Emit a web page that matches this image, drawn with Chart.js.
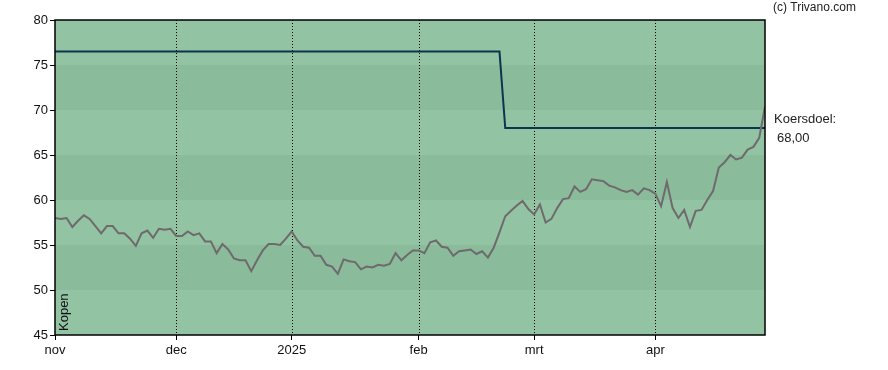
<!DOCTYPE html>
<html>
<head>
<meta charset="utf-8">
<script src="https://cdn.jsdelivr.net/npm/chart.js@4.4.1/dist/chart.umd.min.js"></script>
<style>
    html, body { margin: 0; padding: 0; background: #fff; }
    #wrap { position: relative; width: 888px; height: 370px; }
</style>
</head>
<body>
<div id="wrap"><canvas id="chart"></canvas></div>
<script>
// Koers (trading days, nov 2024 - apr 2025)
const priceValues = [
    58.0, 57.9, 58.0, 57.0, 57.7, 58.3, 57.9, 57.1, 56.3, 57.1,
    57.1, 56.3, 56.3, 55.7, 54.9, 56.3, 56.6, 55.8, 56.8, 56.7,
    56.8, 56.0, 56.0, 56.5, 56.1, 56.3, 55.4, 55.4, 54.1, 55.1,
    54.5, 53.5, 53.3, 53.3, 52.1, 53.3, 54.4, 55.1, 55.1, 55.0,
    55.7, 56.5, 55.5, 54.8, 54.7, 53.8, 53.8, 52.8, 52.6, 51.8,
    53.4, 53.2, 53.1, 52.3, 52.6, 52.5, 52.8, 52.7, 52.9, 54.1,
    53.3, 53.9, 54.4, 54.4, 54.1, 55.3, 55.5, 54.8, 54.7, 53.8,
    54.3, 54.4, 54.5, 54.0, 54.3, 53.6, 54.7, 56.4, 58.2, 58.8,
    59.4, 59.9, 59.0, 58.4, 59.5, 57.5, 57.9, 59.1, 60.1, 60.2,
    61.5, 60.9, 61.2, 62.3, 62.2, 62.1, 61.6, 61.4, 61.1, 60.9,
    61.1, 60.6, 61.3, 61.1, 60.7, 59.3, 62.0, 59.1, 58.0, 58.9,
    57.0, 58.8, 58.9, 60.0, 61.0, 63.6, 64.2, 65.0, 64.5, 64.7,
    65.6, 65.9, 66.9, 70.4
];

// Koersdoel (target price) steps
const targetX = [0, 77, 78, 123];
const targetY = [76.5, 76.5, 68, 68];
const targetLabel = '68,00';

// x axis: first trading day of each month
const monthStarts = [0, 21, 41, 63, 83, 104];
const monthLabels = ['nov', 'dec', '2025', 'feb', 'mrt', 'apr'];

const yTicks = [45, 50, 55, 60, 65, 70, 75, 80];

const FONT = '"Liberation Sans", Arial, sans-serif';

const backdrop = {
    id: 'backdrop',
    beforeDatasetsDraw(chart) {
        const { ctx, chartArea: a, scales } = chart;
        const y = scales.y;
        ctx.save();
        for (let i = 0; i < yTicks.length - 1; i++) {
            const top = y.getPixelForValue(yTicks[i + 1]);
            const bot = y.getPixelForValue(yTicks[i]);
            ctx.fillStyle = i % 2 === 0 ? '#92c3a3' : '#8abb9b';
            ctx.fillRect(a.left, top, a.right - a.left, bot - top);
        }
        // dotted month lines
        ctx.strokeStyle = '#000';
        ctx.lineWidth = 1;
        ctx.setLineDash([1, 2]);
        monthStarts.forEach(m => {
            if (m === 0) return;
            const px = Math.round(scales.x.getPixelForValue(m)) + 0.5;
            ctx.beginPath();
            ctx.moveTo(px, a.top);
            ctx.lineTo(px, a.bottom);
            ctx.stroke();
        });
        ctx.restore();
    },
    afterDraw(chart) {
        const { ctx, chartArea: a, scales } = chart;
        ctx.save();
        ctx.strokeStyle = '#000';
        ctx.lineWidth = 1.5;
        ctx.strokeRect(a.left, a.top, a.right - a.left, a.bottom - a.top);

        ctx.fillStyle = '#222';
        ctx.textBaseline = 'middle';
        ctx.textAlign = 'left';
        ctx.font = '12px ' + FONT;
        ctx.fillText('(c) Trivano.com', 773, 8);

        const ty = scales.y.getPixelForValue(targetY[targetY.length - 1]);
        ctx.font = '13px ' + FONT;
        ctx.fillText('Koersdoel:', a.right + 9, ty - 9);
        ctx.fillText(targetLabel, a.right + 12, ty + 10);

        ctx.fillStyle = '#111';
        ctx.translate(a.left + 9, a.bottom - 4);
        ctx.rotate(-Math.PI / 2);
        ctx.fillText('Kopen', 0, 0);
        ctx.restore();
    }
};

new Chart(document.getElementById('chart'), {
    type: 'line',
    data: {
        datasets: [
            {
                data: priceValues.map((v, i) => ({ x: i, y: v })),
                borderColor: '#6e6a6d',
                borderWidth: 2,
                pointRadius: 0,
                tension: 0
            },
            {
                data: targetX.map((x, i) => ({ x: x, y: targetY[i] })),
                borderColor: '#0c3350',
                borderWidth: 2,
                pointRadius: 0,
                tension: 0
            }
        ]
    },
    options: {
        responsive: true,
        maintainAspectRatio: false,
        animation: false,
        layout: { padding: { top: 20, right: 123, left: 0, bottom: 0 } },
        plugins: { legend: { display: false }, tooltip: { enabled: false } },
        scales: {
            x: {
                type: 'linear',
                min: 0,
                max: 123,
                afterBuildTicks: (s) => { s.ticks = monthStarts.map(v => ({ value: v })); },
                afterFit: (s) => { s.height = 35; },
                border: { display: false },
                grid: { drawOnChartArea: false, drawTicks: true, tickLength: 5, color: '#000' },
                ticks: {
                    autoSkip: false,
                    maxRotation: 0,
                    padding: 3,
                    color: '#111',
                    font: { size: 13, family: FONT },
                    callback: (v) => monthLabels[monthStarts.indexOf(v)]
                }
            },
            y: {
                min: 45,
                max: 80,
                afterBuildTicks: (s) => { s.ticks = yTicks.map(v => ({ value: v })); },
                afterFit: (s) => { s.width = 55; },
                border: { display: false },
                grid: { drawOnChartArea: false, drawTicks: true, tickLength: 5, color: '#000' },
                ticks: {
                    padding: 2,
                    color: '#111',
                    font: { size: 13, family: FONT }
                }
            }
        }
    },
    plugins: [backdrop]
});
</script>
</body>
</html>
